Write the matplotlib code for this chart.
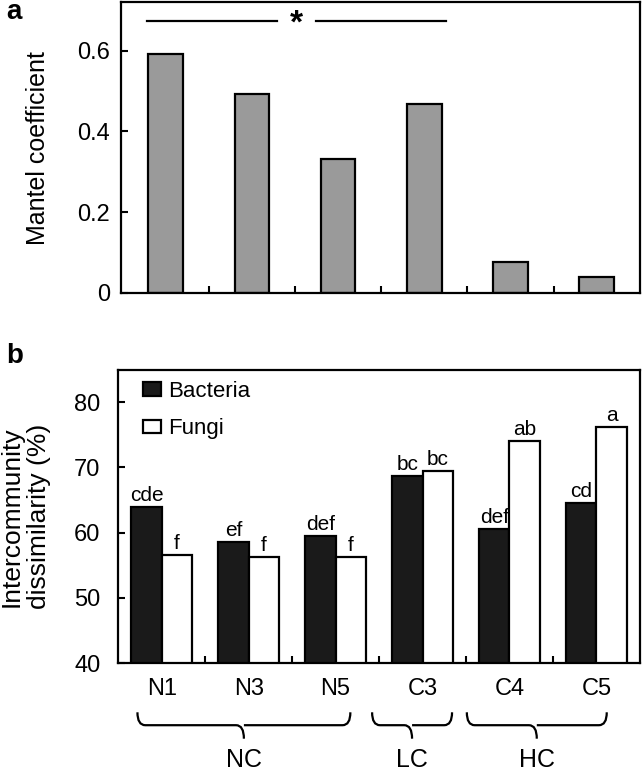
import matplotlib
matplotlib.use('Agg')
import matplotlib.pyplot as plt
import numpy as np
from matplotlib.path import Path
from matplotlib.patches import PathPatch
import matplotlib.transforms as mtransforms

plt.rcParams['font.family'] = ['Liberation Sans', 'DejaVu Sans']

# panel a data
mantel = [0.593, 0.494, 0.333, 0.467, 0.077, 0.039]

# panel b data
sites = ['N1', 'N3', 'N5', 'C3', 'C4', 'C5']
bacteria = [64.0, 58.5, 59.5, 68.7, 60.5, 64.6]
fungi = [56.6, 56.3, 56.3, 69.5, 74.0, 76.2]
bact_letters = ['cde', 'ef', 'def', 'bc', 'def', 'cd']
fungi_letters = ['f', 'f', 'f', 'bc', 'ab', 'a']
groups = ['NC', 'LC', 'HC']
group_spans = [(-0.28, 2.17), (2.42, 3.34), (3.51, 5.12)]


def draw_brace(ax, x0, x1, label):
    trans = mtransforms.blended_transform_factory(ax.transData, ax.transAxes)
    ytop, ymid, ytip = -0.168, -0.212, -0.258
    xm = (x0 + x1) / 2
    r = 0.09
    verts = [(x0, ytop), (x0, ymid), (x0 + r, ymid),
             (xm - r, ymid), (xm, ymid), (xm, ytip),
             (xm, ymid), (xm + r, ymid),
             (x1 - r, ymid), (x1, ymid), (x1, ytop)]
    codes = [Path.MOVETO, Path.CURVE3, Path.CURVE3,
             Path.LINETO, Path.CURVE3, Path.CURVE3,
             Path.MOVETO, Path.LINETO,
             Path.LINETO, Path.CURVE3, Path.CURVE3]
    p = PathPatch(Path(verts, codes), transform=trans, fill=False,
                  lw=1.6, color='black', clip_on=False)
    ax.add_patch(p)
    ax.text(xm, -0.29, label, transform=trans, ha='center', va='top', fontsize=18)


fig = plt.figure(figsize=(6.43, 7.75), dpi=100)

# ---- panel a ----
ax1 = fig.add_axes([0.188, 0.622, 0.807, 0.375])
x = np.arange(len(mantel))
ax1.bar(x, mantel, width=0.4, color='#9a9a9a', edgecolor='black', linewidth=1.6)
ax1.set_xlim(-0.52, 5.5)
ax1.set_ylim(0, 0.72)
ax1.set_yticks([0, 0.2, 0.4, 0.6])
ax1.set_yticklabels(['0', '0.2', '0.4', '0.6'])
ax1.set_xticks(x[:-1] + 0.5)
ax1.set_xticklabels([])
ax1.tick_params(direction='in', length=5, width=1.5, labelsize=17, pad=8)
ax1.set_ylabel('Mantel coefficient', fontsize=18)
ax1.yaxis.set_label_coords(-0.137, 0.5)
for s in ax1.spines.values():
    s.set_linewidth(1.6)
ax1.plot([-0.22, 1.29], [0.673, 0.673], color='black', lw=1.6)
ax1.plot([1.74, 3.25], [0.673, 0.673], color='black', lw=1.6)
ax1.text(1.52, 0.666, '*', ha='center', va='center', fontsize=24, fontweight='bold')
fig.text(0.01, 0.985, 'a', fontsize=20, fontweight='bold', va='center')

# ---- panel b ----
ax2 = fig.add_axes([0.184, 0.1445, 0.811, 0.3785])
xb = np.arange(len(sites))
w = 0.35
ax2.bar(xb - w / 2, bacteria, width=w, color='#1a1a1a', edgecolor='black',
        linewidth=1.6, label='Bacteria')
ax2.bar(xb + w / 2, fungi, width=w, color='white', edgecolor='black',
        linewidth=1.6, label='Fungi')
for i in range(len(sites)):
    ax2.text(xb[i] - w / 2, bacteria[i] + 0.3, bact_letters[i], ha='center',
             va='bottom', fontsize=15)
    ax2.text(xb[i] + w / 2, fungi[i] + 0.3, fungi_letters[i], ha='center',
             va='bottom', fontsize=15)
ax2.set_xlim(-0.5, 5.5)
ax2.set_ylim(40, 85)
ax2.set_yticks([40, 50, 60, 70, 80])
ax2.set_xticks(xb[:-1] + 0.5, minor=True)
ax2.set_xticks(xb)
ax2.set_xticklabels(sites)
ax2.tick_params(axis='x', which='major', length=0, pad=11, labelsize=17)
ax2.tick_params(axis='x', which='minor', direction='in', length=5, width=1.5)
ax2.tick_params(axis='y', direction='in', length=5, width=1.5, labelsize=17, pad=13)
ax2.set_ylabel('Intercommunity\ndissimilarity (%)', fontsize=19, linespacing=1.15)
ax2.yaxis.set_label_coords(-0.13, 0.5)
for s in ax2.spines.values():
    s.set_linewidth(1.6)
ax2.legend(loc='upper left', bbox_to_anchor=(0.035, 0.985), frameon=False,
           fontsize=16, handlelength=0.8, handleheight=0.55, handletextpad=0.3,
           labelspacing=0.75, borderaxespad=0, borderpad=0.3)
for g, (a0, a1) in zip(groups, group_spans):
    draw_brace(ax2, a0, a1, g)
fig.text(0.01, 0.541, 'b', fontsize=20, fontweight='bold', va='center')

fig.savefig('out.png', dpi=100)
